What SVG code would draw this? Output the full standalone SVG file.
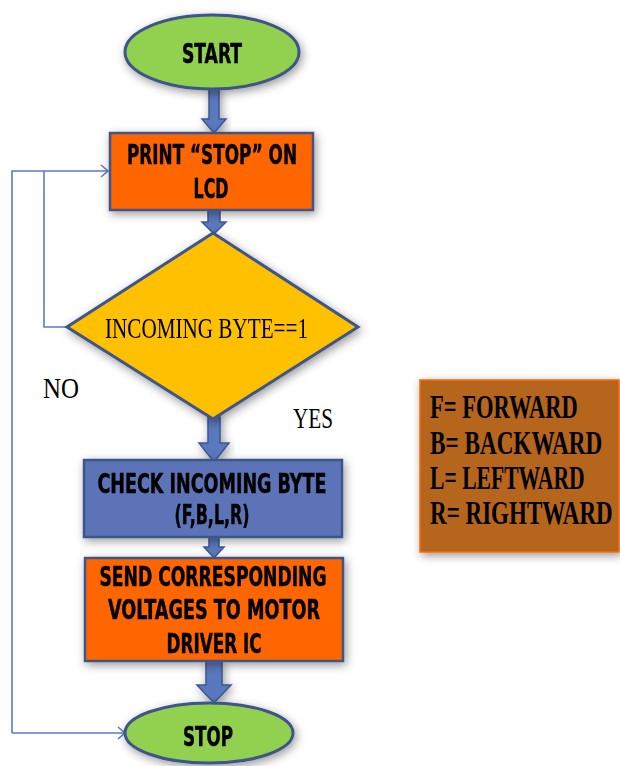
<svg xmlns="http://www.w3.org/2000/svg" width="620" height="766" viewBox="0 0 620 766">
  <style>
    .node-line { stroke: #3E5489; stroke-width: 3; }
    .terminal { fill: #92D050; }
    .process { fill: #FF6600; stroke-width: 2.5; }
    .check { fill: #5B73B8; stroke-width: 2.5; }
    .decision { fill: #FFC000; }
    .box-text { font-family: "DejaVu Sans Condensed", "DejaVu Sans", sans-serif; font-stretch: condensed; font-weight: bold; font-size: 27px; fill: #000; stroke: #000; stroke-width: 0.5; text-anchor: middle; }
    .serif-text { font-family: "Liberation Serif", serif; font-size: 30px; fill: #000; }
    .legend-text { font-family: "Liberation Serif", serif; font-weight: bold; font-size: 33px; fill: #000; }
    .block-arrow { fill: #5A78BE; stroke: #3F5591; stroke-width: 1.5; }
    .thin { fill: none; stroke: #5B7BC8; stroke-width: 1.6; }
  </style>
  <defs>
    <filter id="shadow" x="-20%" y="-30%" width="140%" height="160%">
      <feDropShadow dx="2" dy="3" stdDeviation="5" flood-color="#000" flood-opacity="0.4"/>
    </filter>
  </defs>

  <rect width="620" height="766" fill="#FFFFFF"/>

  <!-- connectors -->
  <g id="connectors">
    <!-- NO loop back to the LCD step -->
    <polyline class="thin" points="67,327 44,327 44,171"/>
    <polyline class="thin" points="12,733 12,171 108,171"/>
    <polyline class="thin" points="101,165 108,171 101,177"/>
    <!-- outer line to STOP -->
    <line class="thin" x1="12" y1="733" x2="125" y2="733"/>
    <polyline class="thin" points="118,727 125,733 118,739"/>

    <!-- block arrows between steps -->
    <path class="block-arrow" filter="url(#shadow)" d="M209,88 L219,88 L219,119 L226,119 L214,133 L202,119 L209,119 Z"/>
    <path class="block-arrow" d="M208,210 L220,210 L220,222 L226,222 L214,234 L202,222 L208,222 Z"/>
    <path class="block-arrow" filter="url(#shadow)" d="M208,417 L220,417 L220,443 L229,443 L214,462 L199,443 L208,443 Z"/>
    <path class="block-arrow" d="M209,537 L219,537 L219,547 L224,547 L214,558 L204,547 L209,547 Z"/>
    <path class="block-arrow" filter="url(#shadow)" d="M206,661 L222,661 L222,685 L231,685 L214,703 L197,685 L206,685 Z"/>
  </g>

  <!-- start terminal -->
  <g id="start" filter="url(#shadow)">
    <ellipse class="terminal node-line" cx="212" cy="52" rx="87" ry="37"/>
    <text class="box-text" x="212" y="63" textLength="60" lengthAdjust="spacingAndGlyphs">START</text>
  </g>

  <!-- print step -->
  <g id="print-stop" filter="url(#shadow)">
    <rect class="process node-line" x="110" y="133" width="203" height="77"/>
    <text class="box-text" x="212" y="164" textLength="170" lengthAdjust="spacingAndGlyphs">PRINT “STOP” ON</text>
    <text class="box-text" x="211" y="198" textLength="35" lengthAdjust="spacingAndGlyphs">LCD</text>
  </g>

  <!-- decision -->
  <g id="decision" filter="url(#shadow)">
    <polygon class="decision node-line" points="213,233 358,327 213,419 67,327"/>
    <text class="serif-text" x="105" y="338" textLength="203" lengthAdjust="spacingAndGlyphs">INCOMING BYTE==1</text>
  </g>

  <!-- branch labels -->
  <text id="label-no" class="serif-text" x="43" y="398" textLength="36" lengthAdjust="spacingAndGlyphs">NO</text>
  <text id="label-yes" class="serif-text" x="293" y="428" textLength="40" lengthAdjust="spacingAndGlyphs">YES</text>

  <!-- check step -->
  <g id="check-byte" filter="url(#shadow)">
    <rect class="check node-line" x="84" y="460" width="258" height="77"/>
    <text class="box-text" x="212" y="493" textLength="229" lengthAdjust="spacingAndGlyphs">CHECK INCOMING BYTE</text>
    <text class="box-text" x="212" y="524" textLength="75" lengthAdjust="spacingAndGlyphs">(F,B,L,R)</text>
  </g>

  <!-- send step -->
  <g id="send-voltages" filter="url(#shadow)">
    <rect class="process node-line" x="85" y="558" width="258" height="103"/>
    <text class="box-text" x="213" y="586" textLength="227" lengthAdjust="spacingAndGlyphs">SEND CORRESPONDING</text>
    <text class="box-text" x="214" y="619" textLength="212" lengthAdjust="spacingAndGlyphs">VOLTAGES TO MOTOR</text>
    <text class="box-text" x="214" y="653" textLength="95" lengthAdjust="spacingAndGlyphs">DRIVER IC</text>
  </g>

  <!-- stop terminal -->
  <g id="stop" filter="url(#shadow)">
    <ellipse class="terminal node-line" cx="209" cy="733" rx="84" ry="30"/>
    <text class="box-text" x="208" y="746" textLength="50" lengthAdjust="spacingAndGlyphs">STOP</text>
  </g>

  <!-- legend: narrow serif lettering via horizontal scale -->
  <g id="legend">
    <rect x="420" y="380" width="199" height="172" fill="#B5651D" stroke="#FF6600" stroke-width="1.5" filter="url(#shadow)"/>
    <text class="legend-text" transform="translate(430,418) scale(0.7,1)" textLength="211" lengthAdjust="spacingAndGlyphs">F= FORWARD</text>
    <text class="legend-text" transform="translate(430,454) scale(0.7,1)" textLength="246" lengthAdjust="spacingAndGlyphs">B= BACKWARD</text>
    <text class="legend-text" transform="translate(430,489) scale(0.7,1)" textLength="221" lengthAdjust="spacingAndGlyphs">L= LEFTWARD</text>
    <text class="legend-text" transform="translate(430,524) scale(0.7,1)" textLength="261" lengthAdjust="spacingAndGlyphs">R= RIGHTWARD</text>
  </g>
</svg>
